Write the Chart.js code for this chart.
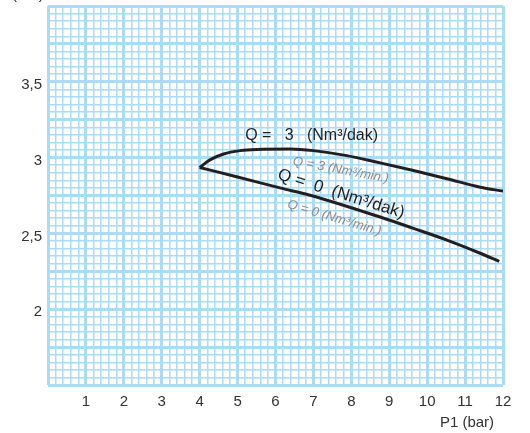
<!DOCTYPE html>
<html>
<head>
<meta charset="utf-8">
<script src="https://cdn.jsdelivr.net/npm/chart.js@4.4.1/dist/chart.umd.min.js"></script>
<style>
  html, body { margin: 0; padding: 0; background: #fff; }
  #wrap { width: 530px; height: 433px; }
</style>
</head>
<body>
<div id="wrap"><canvas id="chart" width="530" height="433"></canvas></div>
<script>
// eksen etiketleri
const xTickLabels = [1, 2, 3, 4, 5, 6, 7, 8, 9, 10, 11, 12];
const yTickLabels = [2, 2.5, 3, 3.5];

// Q = 3 (Nm3/dak) egrisi
const q3X = [4.0, 4.27, 4.63, 5.07, 5.51, 6.39, 7.0, 7.88, 8.76, 9.64, 10.52, 11.4, 12.0];
const q3Y = [2.935, 2.985, 3.024, 3.046, 3.054, 3.057, 3.046, 3.013, 2.965, 2.915, 2.861, 2.805, 2.779];

// Q = 0 (Nm3/dak) egrisi
const q0X = [4.0, 5.0, 6.12, 6.91, 8.76, 9.64, 10.52, 11.4, 11.9];
const q0Y = [2.935, 2.872, 2.800, 2.752, 2.608, 2.533, 2.456, 2.369, 2.315];

const toPoints = (xs, ys) => xs.map((x, i) => ({ x: x, y: ys[i] }));

const gridColor = '#aadcf5';
const font = 'Liberation Sans, Arial, sans-serif';

// egri uzerindeki yazilar (veri koordinatlari)
const notes = [
  { text: 'Q =   3   (Nm³/dak)', x: 5.2, y: 3.116, angle: 0, size: 16, color: '#231f20', italic: false, align: 'left' },
  { text: 'Q =  0  (Nm³/dak)', x: 7.73, y: 2.76, angle: 17.3, size: 17, color: '#231f20', italic: false, align: 'center' },
  { text: 'Q = 3 (Nm³/min.)', x: 7.72, y: 2.918, angle: 10.5, size: 13, color: '#8c8c8c', italic: true, align: 'center' },
  { text: 'Q = 0 (Nm³/min.)', x: 7.55, y: 2.602, angle: 16.5, size: 13, color: '#8c8c8c', italic: true, align: 'center' }
];

const textPlugin = {
  id: 'textPlugin',
  afterDatasetsDraw(chart) {
    const c = chart.ctx;
    const xs = chart.scales.x, ys = chart.scales.y;
    notes.forEach(n => {
      c.save();
      c.translate(xs.getPixelForValue(n.x), ys.getPixelForValue(n.y));
      c.rotate(n.angle * Math.PI / 180);
      c.font = (n.italic ? 'italic ' : '') + n.size + 'px ' + font;
      c.fillStyle = n.color;
      c.textAlign = n.align;
      c.textBaseline = n.align === 'left' ? 'alphabetic' : 'middle';
      c.fillText(n.text, 0, 0);
      c.restore();
    });
    // eksen basliklari
    c.save();
    c.font = '15px ' + font;
    c.fillStyle = '#333';
    c.textAlign = 'center';
    c.textBaseline = 'middle';
    c.fillText('P1 (bar)', 467, 423);
    c.textAlign = 'left';
    c.textBaseline = 'alphabetic';
    c.fillText('(bar)', 12, -1);
    c.restore();
  }
};

const near = (a, b) => Math.abs(a - b) < 1e-6;

new Chart(document.getElementById('chart'), {
  type: 'scatter',
  data: {
    datasets: [
      {
        label: 'Q = 3',
        data: toPoints(q3X, q3Y),
        showLine: true,
        borderColor: '#231f20',
        borderWidth: 3,
        pointRadius: 0,
        cubicInterpolationMode: 'monotone'
      },
      {
        label: 'Q = 0',
        data: toPoints(q0X, q0Y),
        showLine: true,
        borderColor: '#231f20',
        borderWidth: 3,
        pointRadius: 0,
        cubicInterpolationMode: 'monotone'
      }
    ]
  },
  options: {
    responsive: false,
    devicePixelRatio: 1,
    animation: false,
    layout: { padding: { top: 6, right: 27, left: 0, bottom: 0 } },
    plugins: {
      legend: { display: false },
      tooltip: { enabled: false }
    },
    scales: {
      x: {
        type: 'linear',
        min: 0,
        max: 12,
        border: { display: false },
        grid: {
          drawTicks: false,
          color: gridColor,
          lineWidth: ctx => near(ctx.tick.value, Math.round(ctx.tick.value)) ? 3 : 1.5
        },
        ticks: {
          stepSize: 0.2,
          autoSkip: false,
          maxRotation: 0,
          padding: 8,
          color: '#333',
          font: { family: font, size: 15 },
          callback: v => xTickLabels.some(t => near(t, v)) ? String(Math.round(v)) : ''
        },
        afterFit: s => { s.height = 48; s.paddingLeft = 0; s.paddingRight = 0; }
      },
      y: {
        type: 'linear',
        min: 1.5,
        max: 4.0,
        border: { display: false },
        grid: {
          drawTicks: false,
          color: gridColor,
          lineWidth: ctx => near(ctx.tick.value * 4, Math.round(ctx.tick.value * 4)) ? 3 : 1.5
        },
        ticks: {
          stepSize: 0.05,
          autoSkip: false,
          padding: 6,
          labelOffset: 3,
          color: '#333',
          font: { family: font, size: 15 },
          callback: v => yTickLabels.some(t => near(t, v)) ? String(Math.round(v * 10) / 10).replace('.', ',') : ''
        },
        afterFit: s => { s.width = 48; s.paddingTop = 0; s.paddingBottom = 0; }
      }
    }
  },
  plugins: [textPlugin]
});
</script>
</body>
</html>
